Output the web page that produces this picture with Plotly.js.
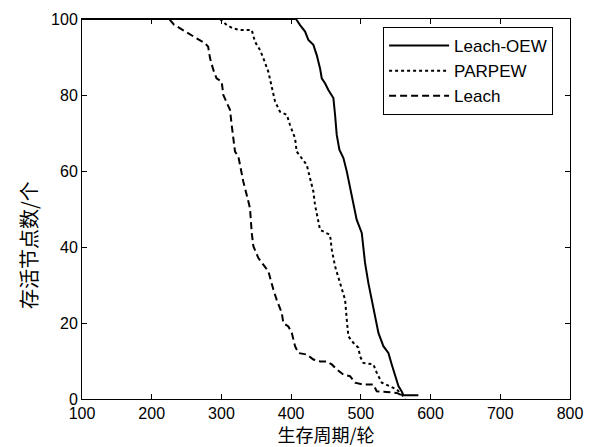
<!DOCTYPE html>
<html>
<head>
<meta charset="utf-8">
<script src="https://cdn.plot.ly/plotly-3.0.1.min.js"></script>
<style>html,body{margin:0;padding:0;background:#fff;}</style>
</head>
<body>
<div id="chart" style="width:592px;height:447px;"></div>
<script>
// Leach-OEW (solid)
const oewX = [100, 407, 412.8, 420, 424.7, 431.9, 436.7, 441.5, 443.9, 448.6, 453.4, 460.6, 463, 465.4, 469.2, 475, 479.8, 484.5, 489.2, 494, 501.3, 506, 510.8, 518, 525.2, 532.3, 539.5, 544.3, 549.1, 553.9, 558.6, 561, 582.5];
const oewY = [100, 100, 98.4, 96.7, 94.5, 93.2, 90.5, 87, 84.4, 83.1, 81.3, 79.2, 74.8, 69.5, 65.6, 63.4, 59.9, 55.5, 51.1, 47.2, 43.7, 35.8, 30.5, 24.4, 17.4, 13.9, 12.1, 9.1, 6, 3.4, 2, 1, 1];
// PARPEW (dotted)
const parX = [100, 298, 307.6, 317, 326.7, 343.5, 348.2, 355.4, 360.1, 367.3, 372.1, 376.9, 384, 393.7, 398.4, 405.6, 408, 415.2, 422.4, 427.1, 431.9, 434.3, 436.7, 441.5, 455.8, 458.3, 463, 470.2, 477.4, 479.8, 482.1, 489.2, 496.4, 498.9, 503.6, 518, 522.8, 530, 542, 551.5, 558.6, 563.4];
const parY = [100, 100, 98.4, 97.5, 97.1, 97.1, 94, 91.8, 89.7, 86.1, 82.2, 78.3, 75.6, 74.8, 72.1, 68.6, 65.1, 63.4, 61.6, 58.1, 54.6, 51, 48.9, 44.5, 43.2, 39.3, 34.9, 30.5, 26.1, 20.9, 16.5, 14.8, 13.5, 11.2, 9.5, 9.1, 6.9, 4.3, 3.4, 2.5, 1.2, 0];
// Leach (dashed)
const leachX = [100, 225, 232, 245, 255, 264.5, 276.5, 281, 283.6, 288.4, 293, 300.4, 302.7, 307.6, 312.3, 314.7, 317, 319.5, 324.3, 326.7, 331.4, 336.3, 341, 343.5, 345.8, 353, 362.6, 367.3, 374.5, 379.3, 386.5, 388.8, 396, 400.9, 405.6, 410.4, 422.4, 431.9, 441.5, 451, 458.3, 465.4, 475, 484.5, 491.7, 503.6, 518, 522.8, 542, 551.5, 558.6];
const leachY = [100, 100, 98.5, 97, 95.8, 94.9, 93.6, 92.7, 89.7, 86.6, 84.4, 83.5, 80, 77.8, 76.1, 72.1, 68.6, 65.1, 63.8, 61.2, 57.2, 53.7, 50.2, 43.7, 40.2, 37.1, 34.9, 33.6, 28.8, 26.1, 22.7, 20, 19.1, 17.4, 13.9, 12.1, 11.7, 10.4, 9.9, 9.9, 9.1, 7.8, 6.4, 6, 4.3, 3.8, 3.8, 2, 1.8, 1.6, 1];

const seriesNames = ['Leach-OEW', 'PARPEW', 'Leach'];
const xTicks = [100, 200, 300, 400, 500, 600, 700, 800];
const yTicks = [0, 20, 40, 60, 80, 100];
const xTitle = '生存周期/轮';
const yTitle = '存活节点数/个';

const traces = [
  {x: oewX, y: oewY, name: seriesNames[0], mode: 'lines', line: {color: '#000', width: 2, dash: 'solid'}},
  {x: parX, y: parY, name: seriesNames[1], mode: 'lines', line: {color: '#000', width: 2, dash: 'dot'}},
  {x: leachX, y: leachY, name: seriesNames[2], mode: 'lines', line: {color: '#000', width: 2, dash: '7px,4px'}}
];

const axisCommon = {
  showline: true, linecolor: '#000', linewidth: 1, mirror: 'allticks',
  ticks: 'inside', ticklen: 5, tickcolor: '#000', tickwidth: 1,
  showgrid: false, zeroline: false,
  tickfont: {family: '"Liberation Sans", Arial, sans-serif', size: 16, color: '#000'}
};

const cjkFont = '"Noto Sans CJK SC", sans-serif';

const layout = {
  width: 592, height: 447,
  margin: {l: 82, r: 22, t: 19, b: 48, pad: 0},
  paper_bgcolor: '#fff', plot_bgcolor: '#fff',
  showlegend: true,
  xaxis: Object.assign({}, axisCommon, {
    range: [100, 800], tickvals: xTicks, ticktext: xTicks.map(String),
    title: {text: xTitle, font: {family: cjkFont, size: 18, color: '#000'}, standoff: 2}
  }),
  yaxis: Object.assign({}, axisCommon, {
    range: [0, 100], tickvals: yTicks, ticktext: yTicks.map(String)
  }),
  annotations: [{
    text: yTitle, xref: 'paper', yref: 'paper', x: -0.1107, y: 0.405,
    xanchor: 'center', yanchor: 'middle', textangle: -90, showarrow: false,
    font: {family: cjkFont, size: 20, color: '#000'}
  }],
  legend: {
    x: 0.617, y: 0.979, xanchor: 'left', yanchor: 'top',
    bgcolor: '#fff', bordercolor: '#000', borderwidth: 1,
    font: {family: '"Liberation Sans", Arial, sans-serif', size: 17, color: '#000'},
    itemwidth: 60
  }
};

Plotly.newPlot('chart', traces, layout, {displayModeBar: false, staticPlot: true});
</script>
</body>
</html>
